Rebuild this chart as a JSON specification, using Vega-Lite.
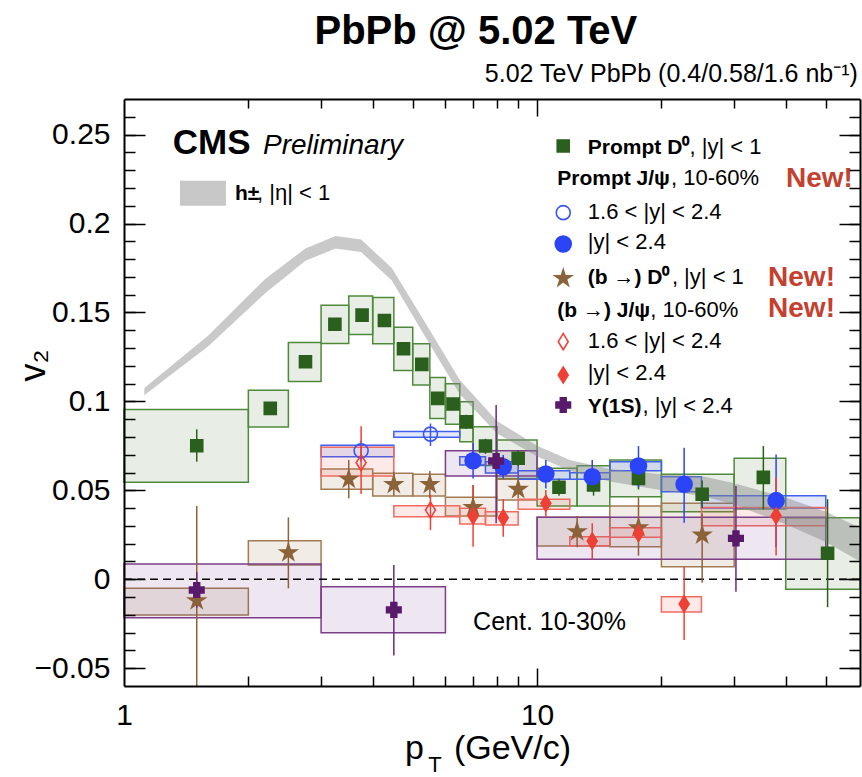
{
"$schema": "https://vega.github.io/schema/vega-lite/v6.json",
"width": 736, "height": 587,
"autosize": {"type": "none"},
"padding": {"left": 124, "top": 99, "right": 2, "bottom": 91},
"background": "white",
"config": {"view": {"stroke": null}, "font": "Liberation Sans"},
"resolve": {"axis": {"x": "independent", "y": "independent"}, "scale": {"fill": "independent", "stroke": "independent", "color": "independent", "shape": "independent", "size": "independent"}},
"datasets": {
"band": [
{"pT":1.12,"hi":0.1075,"lo":0.1035},{"pT":1.35,"hi":0.123,"lo":0.118},{"pT":1.6,"hi":0.137,"lo":0.131},{"pT":2.2,"hi":0.169,"lo":0.161},{"pT":2.75,"hi":0.186,"lo":0.179},{"pT":3.25,"hi":0.193,"lo":0.186},{"pT":3.75,"hi":0.191,"lo":0.184},{"pT":4.45,"hi":0.175,"lo":0.168},{"pT":5.5,"hi":0.14,"lo":0.132},{"pT":6.5,"hi":0.112,"lo":0.104},{"pT":8,"hi":0.089,"lo":0.082},{"pT":10,"hi":0.075,"lo":0.069},{"pT":12,"hi":0.067,"lo":0.061},{"pT":15,"hi":0.062,"lo":0.055},{"pT":20,"hi":0.059,"lo":0.05},{"pT":25,"hi":0.058,"lo":0.047},{"pT":30,"hi":0.054,"lo":0.042},{"pT":40,"hi":0.046,"lo":0.031},{"pT":50,"hi":0.038,"lo":0.021},{"pT":60.5,"hi":0.029,"lo":0.01}
],
"boxes": [
{"s":"D0","a":1,"b":2,"lo":0.0545,"hi":0.0955},{"s":"D0","a":2,"b":2.5,"lo":0.0856,"hi":0.1063},{"s":"D0","a":2.5,"b":3,"lo":0.1112,"hi":0.1331},{"s":"D0","a":3,"b":3.5,"lo":0.1326,"hi":0.1541},{"s":"D0","a":3.5,"b":4,"lo":0.1376,"hi":0.1592},{"s":"D0","a":4,"b":4.5,"lo":0.1324,"hi":0.1584},{"s":"D0","a":4.5,"b":5,"lo":0.1174,"hi":0.1417},{"s":"D0","a":5,"b":5.5,"lo":0.1092,"hi":0.1324},{"s":"D0","a":5.5,"b":6,"lo":0.0904,"hi":0.1134},{"s":"D0","a":6,"b":6.5,"lo":0.0871,"hi":0.1099},{"s":"D0","a":6.5,"b":7,"lo":0.0773,"hi":0.0998},{"s":"D0","a":7,"b":8,"lo":0.064,"hi":0.0857},{"s":"D0","a":8,"b":10,"lo":0.0567,"hi":0.0783},{"s":"D0","a":10,"b":12.5,"lo":0.0412,"hi":0.0624},{"s":"D0","a":12.5,"b":15,"lo":0.0412,"hi":0.0638},{"s":"D0","a":15,"b":20,"lo":0.0464,"hi":0.067},{"s":"D0","a":20,"b":30,"lo":0.038,"hi":0.059},{"s":"D0","a":30,"b":40,"lo":0.0395,"hi":0.068},{"s":"D0","a":40,"b":60.5,"lo":-0.0056,"hi":0.0346},
{"s":"bD0","a":1,"b":2,"lo":-0.0201,"hi":-0.0051},{"s":"bD0","a":2,"b":3,"lo":0.008,"hi":0.0217},{"s":"bD0","a":3,"b":4,"lo":0.0506,"hi":0.062},{"s":"bD0","a":4,"b":5,"lo":0.0468,"hi":0.0596},{"s":"bD0","a":5,"b":6,"lo":0.0468,"hi":0.059},{"s":"bD0","a":6,"b":8,"lo":0.0356,"hi":0.0461},{"s":"bD0","a":8,"b":10,"lo":0.0446,"hi":0.0563},{"s":"bD0","a":10,"b":15,"lo":0.0187,"hi":0.0348},{"s":"bD0","a":15,"b":20,"lo":0.0183,"hi":0.0412},{"s":"bD0","a":20,"b":30,"lo":0.0071,"hi":0.0427},
{"s":"JpF","a":3,"b":4.5,"lo":0.0689,"hi":0.0754},{"s":"JpF","a":4.5,"b":6.5,"lo":0.0798,"hi":0.0831},
{"s":"Jp","a":6.5,"b":7.5,"lo":0.0642,"hi":0.0689},{"s":"Jp","a":7.5,"b":9,"lo":0.0598,"hi":0.066},{"s":"Jp","a":9,"b":12,"lo":0.0562,"hi":0.061},{"s":"Jp","a":12,"b":15,"lo":0.0562,"hi":0.0599},{"s":"Jp","a":15,"b":20,"lo":0.061,"hi":0.066},{"s":"Jp","a":20,"b":25,"lo":0.0492,"hi":0.0576},{"s":"Jp","a":25,"b":50,"lo":0.04,"hi":0.047},
{"s":"bJF","a":3,"b":4.5,"lo":0.058,"hi":0.0742},{"s":"bJF","a":4.5,"b":6.5,"lo":0.0352,"hi":0.0414},
{"s":"bJ","a":6.5,"b":7.5,"lo":0.0311,"hi":0.0399},{"s":"bJ","a":7.5,"b":9,"lo":0.0305,"hi":0.038},{"s":"bJ","a":9,"b":12,"lo":0.0393,"hi":0.045},{"s":"bJ","a":12,"b":15,"lo":0.0189,"hi":0.0239},{"s":"bJ","a":15,"b":20,"lo":0.0236,"hi":0.029},{"s":"bJ","a":20,"b":25,"lo":-0.0184,"hi":-0.0098},{"s":"bJ","a":25,"b":50,"lo":0.0301,"hi":0.0404},
{"s":"Y","a":1,"b":3,"lo":-0.0216,"hi":0.0086},{"s":"Y","a":3,"b":6,"lo":-0.03,"hi":-0.0042},{"s":"Y","a":6,"b":10,"lo":0.058,"hi":0.0722},{"s":"Y","a":10,"b":50,"lo":0.0112,"hi":0.0348}
],
"pts": [
{"s":"D0","pT":1.5,"v2":0.0751,"lo":0.0661,"hi":0.0843},{"s":"D0","pT":2.26,"v2":0.0961,"lo":0.093,"hi":0.099},{"s":"D0","pT":2.75,"v2":0.1223,"lo":0.1195,"hi":0.125},{"s":"D0","pT":3.24,"v2":0.1434,"lo":0.1405,"hi":0.146},{"s":"D0","pT":3.77,"v2":0.1485,"lo":0.1455,"hi":0.1515},{"s":"D0","pT":4.27,"v2":0.1455,"lo":0.1425,"hi":0.1485},{"s":"D0","pT":4.75,"v2":0.1296,"lo":0.1266,"hi":0.1326},{"s":"D0","pT":5.26,"v2":0.1208,"lo":0.1175,"hi":0.124},{"s":"D0","pT":5.75,"v2":0.1017,"lo":0.098,"hi":0.105},{"s":"D0","pT":6.26,"v2":0.0985,"lo":0.095,"hi":0.102},{"s":"D0","pT":6.74,"v2":0.0885,"lo":0.0845,"hi":0.0925},{"s":"D0","pT":7.5,"v2":0.0749,"lo":0.0705,"hi":0.079},{"s":"D0","pT":9,"v2":0.068,"lo":0.0635,"hi":0.0725},{"s":"D0","pT":11.3,"v2":0.0517,"lo":0.047,"hi":0.0565},{"s":"D0","pT":13.7,"v2":0.053,"lo":0.047,"hi":0.059},{"s":"D0","pT":17.6,"v2":0.0567,"lo":0.0505,"hi":0.063},{"s":"D0","pT":25.1,"v2":0.0478,"lo":0.04,"hi":0.0555},{"s":"D0","pT":35.3,"v2":0.0573,"lo":0.0393,"hi":0.0749},{"s":"D0","pT":50.5,"v2":0.0146,"lo":-0.0157,"hi":0.045},
{"s":"JpF","pT":3.75,"v2":0.0722,"lo":0.066,"hi":0.078},{"s":"JpF","pT":5.52,"v2":0.0816,"lo":0.0749,"hi":0.0876},
{"s":"Jp","pT":7.0,"v2":0.0666,"lo":0.0567,"hi":0.0766},{"s":"Jp","pT":8.28,"v2":0.0633,"lo":0.0567,"hi":0.0698},{"s":"Jp","pT":10.5,"v2":0.0592,"lo":0.0511,"hi":0.067},{"s":"Jp","pT":13.6,"v2":0.0576,"lo":0.0492,"hi":0.067},{"s":"Jp","pT":17.6,"v2":0.0637,"lo":0.0517,"hi":0.0749},{"s":"Jp","pT":22.7,"v2":0.0534,"lo":0.0318,"hi":0.0739},{"s":"Jp","pT":37.9,"v2":0.0442,"lo":0.018,"hi":0.0702},
{"s":"bD0","pT":1.5,"v2":-0.012,"lo":-0.06,"hi":0.0412},{"s":"bD0","pT":2.5,"v2":0.015,"lo":-0.0051,"hi":0.0348},{"s":"bD0","pT":3.5,"v2":0.0563,"lo":0.0455,"hi":0.067},{"s":"bD0","pT":4.5,"v2":0.0534,"lo":0.047,"hi":0.0605},{"s":"bD0","pT":5.5,"v2":0.0534,"lo":0.0455,"hi":0.0608},{"s":"bD0","pT":7.0,"v2":0.0404,"lo":0.0343,"hi":0.053},{"s":"bD0","pT":9.0,"v2":0.0506,"lo":0.0455,"hi":0.057},{"s":"bD0","pT":12.5,"v2":0.0268,"lo":0.018,"hi":0.0356},{"s":"bD0","pT":17.6,"v2":0.029,"lo":0.0133,"hi":0.0461},{"s":"bD0","pT":25.1,"v2":0.0249,"lo":-0.0019,"hi":0.037},
{"s":"bJF","pT":3.75,"v2":0.0655,"lo":0.048,"hi":0.086},{"s":"bJF","pT":5.52,"v2":0.0389,"lo":0.0277,"hi":0.0474},
{"s":"bJ","pT":7.0,"v2":0.0356,"lo":0.0183,"hi":0.053},{"s":"bJ","pT":8.28,"v2":0.0346,"lo":0.0239,"hi":0.045},{"s":"bJ","pT":10.5,"v2":0.0427,"lo":0.0352,"hi":0.0502},{"s":"bJ","pT":13.6,"v2":0.0215,"lo":0.0112,"hi":0.0315},{"s":"bJ","pT":17.6,"v2":0.0258,"lo":0.0225,"hi":0.0295},{"s":"bJ","pT":22.7,"v2":-0.0139,"lo":-0.0341,"hi":0.0071},{"s":"bJ","pT":37.9,"v2":0.0357,"lo":0.0133,"hi":0.0573},
{"s":"Y","pT":1.5,"v2":-0.006,"lo":-0.016,"hi":0.004},{"s":"Y","pT":4.5,"v2":-0.0172,"lo":-0.0429,"hi":0.008},{"s":"Y","pT":7.96,"v2":0.0665,"lo":0.0315,"hi":0.098},{"s":"Y","pT":30.3,"v2":0.023,"lo":-0.007,"hi":0.0524}
],
"leg": [
{"s":"D0","pT":11.57,"v2":0.2436},{"s":"JpF","pT":11.57,"v2":0.2061},{"s":"Jp","pT":11.57,"v2":0.1885},{"s":"bD0","pT":11.57,"v2":0.1692},{"s":"bJF","pT":11.57,"v2":0.1336},{"s":"bJ","pT":11.57,"v2":0.1148},{"s":"Y","pT":11.57,"v2":0.098}
]
},
"layer": [
{
"data": {"name": "boxes"},
"mark": {"type": "rect", "fillOpacity": 0.13, "strokeWidth": 1.5, "strokeOpacity": 1},
"encoding": {
"x": {"field": "a", "type": "quantitative", "scale": {"type": "log", "domain": [1, 60.5], "nice": false},
 "axis": {"orient": "bottom", "values": [10], "labels": false, "ticks": true, "tickSize": -18, "tickWidth": 1.5, "tickColor": "black", "domain": false, "grid": false, "title": null, "zindex": 1}},
"x2": {"field": "b"},
"y": {"field": "lo", "type": "quantitative", "scale": {"domain": [-0.06, 0.27], "nice": false, "zero": false},
 "axis": {"orient": "left", "values": [-0.05, 0, 0.05, 0.1, 0.15, 0.2, 0.25], "labels": false, "ticks": true, "tickSize": -21, "tickWidth": 1.5, "tickColor": "black", "domain": false, "grid": false, "title": null, "zindex": 1}},
"y2": {"field": "hi"},
"fill": {"field": "s", "type": "nominal", "legend": null, "scale": {"domain": ["D0","JpF","Jp","bD0","bJF","bJ","Y"], "range": ["#4a7a3c","#3050f0","#3050f0","#9a7040","#f05a50","#f05a50","#7b3f89"]}},
"stroke": {"field": "s", "type": "nominal", "legend": null, "scale": {"domain": ["D0","JpF","Jp","bD0","bJF","bJ","Y"], "range": ["#4f8a3b","#4060f0","#4060f0","#a27b52","#f26a60","#f26a60","#7b3f89"]}}
}
},
{
"data": {"name": "band"},
"mark": {"type": "area", "color": "#888888", "opacity": 0.45},
"encoding": {
"x": {"field": "pT", "type": "quantitative", "scale": {"type": "log", "domain": [1, 60.5], "nice": false},
 "axis": {"orient": "bottom", "values": [1, 10], "format": "~g", "labelFontSize": 30, "labelFont": "Liberation Sans", "labelColor": "black", "labelPadding": 14, "labelBaseline": "top", "ticks": false, "domain": true, "domainColor": "black", "domainWidth": 2, "grid": false, "title": null, "labelFlush": false, "labelOverlap": false, "zindex": 1}},
"y": {"field": "hi", "type": "quantitative", "scale": {"domain": [-0.06, 0.27], "nice": false, "zero": false},
 "axis": {"orient": "left", "values": [-0.05, 0, 0.05, 0.1, 0.15, 0.2, 0.25], "format": "~g", "labelFontSize": 30, "labelFont": "Liberation Sans", "labelColor": "black", "labelPadding": 14, "ticks": false, "domain": true, "domainColor": "black", "domainWidth": 2, "grid": false, "labelOverlap": false, "labelFlush": false, "zindex": 1,
  "title": "v₂", "titleFontSize": 36, "titleFont": "Liberation Sans", "titleFontWeight": "normal", "titleColor": "black", "titleX": -80, "titleY": 266, "titleAngle": -90, "titleAlign": "center", "titleBaseline": "alphabetic"}},
"y2": {"field": "lo"}
}
},
{
"data": {"values": [{"z": 0}]},
"mark": {"type": "rule", "color": "black", "strokeWidth": 1.5, "strokeDash": [8, 5]},
"encoding": {"y": {"field": "z", "type": "quantitative", "scale": {"domain": [-0.06, 0.27], "nice": false, "zero": false}, "axis": null}}
},
{
"data": {"name": "pts"},
"mark": {"type": "rule", "strokeWidth": 1.5},
"encoding": {
"x": {"field": "pT", "type": "quantitative", "scale": {"type": "log", "domain": [1, 60.5], "nice": false},
 "axis": {"orient": "bottom", "values": [2,3,4,5,6,7,8,9,20,30,40,50], "labels": false, "ticks": true, "tickSize": -10, "tickWidth": 1.5, "tickColor": "black", "domain": false, "grid": false, "title": null, "zindex": 1}},
"y": {"field": "lo", "type": "quantitative", "scale": {"domain": [-0.06, 0.27], "nice": false, "zero": false},
 "axis": {"orient": "left", "values": [-0.05,-0.04,-0.03,-0.02,-0.01,0,0.01,0.02,0.03,0.04,0.05,0.06,0.07,0.08,0.09,0.1,0.11,0.12,0.13,0.14,0.15,0.16,0.17,0.18,0.19,0.2,0.21,0.22,0.23,0.24,0.25,0.26], "labels": false, "ticks": true, "tickSize": -11, "tickWidth": 1.5, "tickColor": "black", "domain": false, "grid": false, "title": null, "zindex": 1}},
"y2": {"field": "hi"},
"color": {"field": "s", "type": "nominal", "legend": null, "scale": {"domain": ["D0","JpF","Jp","bD0","bJF","bJ","Y"], "range": ["#2b5f1d","#3d55f0","#2b44f5","#8c6239","#ef4136","#ee4035","#6a2a7a"]}}
}
},
{
"data": {"name": "pts"},
"mark": {"type": "point", "filled": true, "opacity": 1, "strokeWidth": 1.6},
"encoding": {
"x": {"field": "pT", "type": "quantitative", "scale": {"type": "log", "domain": [1, 60.5], "nice": false},
 "axis": {"orient": "top", "values": [10], "labels": false, "ticks": true, "tickSize": -17, "tickWidth": 1.5, "tickColor": "black", "domain": true, "domainColor": "black", "domainWidth": 2, "grid": false, "title": null, "zindex": 1}},
"y": {"field": "v2", "type": "quantitative", "scale": {"domain": [-0.06, 0.27], "nice": false, "zero": false},
 "axis": {"orient": "right", "values": [-0.05, 0, 0.05, 0.1, 0.15, 0.2, 0.25], "labels": false, "ticks": true, "tickSize": -21, "tickWidth": 1.5, "tickColor": "black", "domain": true, "domainColor": "black", "domainWidth": 2, "grid": false, "title": null, "zindex": 1}},
"shape": {"field": "s", "type": "nominal", "legend": null, "scale": {"domain": ["D0","JpF","Jp","bD0","bJF","bJ","Y"], "range": ["square","circle","circle","M0,-1L0.22,-0.3L0.95,-0.3L0.36,0.12L0.59,0.81L0,0.38L-0.59,0.81L-0.36,0.12L-0.95,-0.3L-0.22,-0.3Z","M0,-1L0.62,0L0,1L-0.62,0Z","M0,-1L0.62,0L0,1L-0.62,0Z","cross"]}},
"fill": {"field": "s", "type": "nominal", "legend": null, "scale": {"domain": ["D0","JpF","Jp","bD0","bJF","bJ","Y"], "range": ["#2b5f1d","transparent","#2b44f5","#8c6239","transparent","#ee4035","#5a1a6b"]}},
"stroke": {"field": "s", "type": "nominal", "legend": null, "scale": {"domain": ["D0","JpF","Jp","bD0","bJF","bJ","Y"], "range": ["#2b5f1d","#3d55f0","#2b44f5","#8c6239","#ef4136","#ee4035","#5a1a6b"]}},
"size": {"field": "s", "type": "ordinal", "legend": null, "scale": {"type": "ordinal", "domain": ["D0","JpF","Jp","bD0","bJF","bJ","Y"], "range": [144, 196, 256, 300, 256, 256, 210]}}
}
},
{
"data": {"name": "leg"},
"mark": {"type": "point", "filled": true, "opacity": 1, "strokeWidth": 1.6},
"encoding": {
"x": {"field": "pT", "type": "quantitative", "scale": {"type": "log", "domain": [1, 60.5], "nice": false},
 "axis": {"orient": "top", "values": [2,3,4,5,6,7,8,9,20,30,40,50], "labels": false, "ticks": true, "tickSize": -9, "tickWidth": 1.5, "tickColor": "black", "domain": false, "grid": false, "title": null, "zindex": 1}},
"y": {"field": "v2", "type": "quantitative", "scale": {"domain": [-0.06, 0.27], "nice": false, "zero": false},
 "axis": {"orient": "right", "values": [-0.05,-0.04,-0.03,-0.02,-0.01,0,0.01,0.02,0.03,0.04,0.05,0.06,0.07,0.08,0.09,0.1,0.11,0.12,0.13,0.14,0.15,0.16,0.17,0.18,0.19,0.2,0.21,0.22,0.23,0.24,0.25,0.26], "labels": false, "ticks": true, "tickSize": -11, "tickWidth": 1.5, "tickColor": "black", "domain": false, "grid": false, "title": null, "zindex": 1}},
"shape": {"field": "s", "type": "nominal", "legend": null, "scale": {"domain": ["D0","JpF","Jp","bD0","bJF","bJ","Y"], "range": ["square","circle","circle","M0,-1L0.22,-0.3L0.95,-0.3L0.36,0.12L0.59,0.81L0,0.38L-0.59,0.81L-0.36,0.12L-0.95,-0.3L-0.22,-0.3Z","M0,-1L0.62,0L0,1L-0.62,0Z","M0,-1L0.62,0L0,1L-0.62,0Z","cross"]}},
"fill": {"field": "s", "type": "nominal", "legend": null, "scale": {"domain": ["D0","JpF","Jp","bD0","bJF","bJ","Y"], "range": ["#2b5f1d","white","#2b44f5","#8c6239","white","#ee4035","#5a1a6b"]}},
"stroke": {"field": "s", "type": "nominal", "legend": null, "scale": {"domain": ["D0","JpF","Jp","bD0","bJF","bJ","Y"], "range": ["#2b5f1d","#3d55f0","#2b44f5","#8c6239","#ef4136","#ee4035","#5a1a6b"]}},
"size": {"field": "s", "type": "ordinal", "legend": null, "scale": {"type": "ordinal", "domain": ["D0","JpF","Jp","bD0","bJF","bJ","Y"], "range": [144, 196, 256, 300, 256, 256, 210]}}
}
},
{
"data": {"values": [{"a": 1.366, "b": 1.766, "lo": 0.21, "hi": 0.2241}]},
"mark": {"type": "rect", "color": "#c8c8c8"},
"encoding": {
"x": {"field": "a", "type": "quantitative", "scale": {"type": "log", "domain": [1, 60.5], "nice": false}, "axis": null},
"x2": {"field": "b"},
"y": {"field": "lo", "type": "quantitative", "scale": {"domain": [-0.06, 0.27], "nice": false, "zero": false}, "axis": null},
"y2": {"field": "hi"}
}
},
{
"data": {"values": [
{"t": "Prompt D⁰", "x": 13.27, "y": 0.2391},
{"t": "Prompt J/ψ", "x": 11.19, "y": 0.2217},
{"t": "(b →) D⁰", "x": 13.27, "y": 0.166},
{"t": "(b →) J/ψ", "x": 11.19, "y": 0.1476},
{"t": "Υ(1S)", "x": 13.27, "y": 0.0936},
{"t": "h±", "x": 1.857, "y": 0.2132}
]},
"mark": {"type": "text", "align": "left", "baseline": "alphabetic", "fontSize": 21, "fontWeight": "bold", "font": "Liberation Sans", "color": "black"},
"encoding": {
"x": {"field": "x", "type": "quantitative", "scale": {"type": "log", "domain": [1, 60.5], "nice": false}, "axis": null},
"y": {"field": "y", "type": "quantitative", "scale": {"domain": [-0.06, 0.27], "nice": false, "zero": false}, "axis": null},
"text": {"field": "t"}
}
},
{
"data": {"values": [
{"t": ", |y| < 1", "x": 23.4, "y": 0.2391},
{"t": ", 10-60%", "x": 21.1, "y": 0.2217},
{"t": "1.6 < |y| < 2.4", "x": 13.27, "y": 0.2024},
{"t": "|y| < 2.4", "x": 13.27, "y": 0.1855},
{"t": ", |y| < 1", "x": 21.2, "y": 0.166},
{"t": ", 10-60%", "x": 18.8, "y": 0.1476},
{"t": "1.6 < |y| < 2.4", "x": 13.27, "y": 0.1299},
{"t": "|y| < 2.4", "x": 13.27, "y": 0.112},
{"t": ", |y| < 2.4", "x": 18.0, "y": 0.0936},
{"t": ", |η| < 1", "x": 2.1, "y": 0.2132}
]},
"mark": {"type": "text", "align": "left", "baseline": "alphabetic", "fontSize": 22, "font": "Liberation Sans", "color": "black"},
"encoding": {
"x": {"field": "x", "type": "quantitative", "scale": {"type": "log", "domain": [1, 60.5], "nice": false}, "axis": null},
"y": {"field": "y", "type": "quantitative", "scale": {"domain": [-0.06, 0.27], "nice": false, "zero": false}, "axis": null},
"text": {"field": "t"}
}
},
{
"data": {"values": [
{"t": "New!", "x": 40.06, "y": 0.2207},
{"t": "New!", "x": 36.24, "y": 0.1649},
{"t": "New!", "x": 36.24, "y": 0.1476}
]},
"mark": {"type": "text", "align": "left", "baseline": "alphabetic", "fontSize": 28, "fontWeight": "bold", "font": "Liberation Sans", "color": "#c4402f"},
"encoding": {
"x": {"field": "x", "type": "quantitative", "scale": {"type": "log", "domain": [1, 60.5], "nice": false}, "axis": null},
"y": {"field": "y", "type": "quantitative", "scale": {"domain": [-0.06, 0.27], "nice": false, "zero": false}, "axis": null},
"text": {"field": "t"}
}
},
{
"data": {"values": [{"t": "CMS", "x": 1.312, "y": 0.2391}]},
"mark": {"type": "text", "align": "left", "baseline": "alphabetic", "fontSize": 35, "fontWeight": "bold", "font": "Liberation Sans", "color": "black"},
"encoding": {
"x": {"field": "x", "type": "quantitative", "scale": {"type": "log", "domain": [1, 60.5], "nice": false}, "axis": null},
"y": {"field": "y", "type": "quantitative", "scale": {"domain": [-0.06, 0.27], "nice": false, "zero": false}, "axis": null},
"text": {"field": "t"}
}
},
{
"data": {"values": [{"t": "Preliminary", "x": 2.17, "y": 0.2391}]},
"mark": {"type": "text", "align": "left", "baseline": "alphabetic", "fontSize": 28, "fontStyle": "italic", "font": "Liberation Sans", "color": "black"},
"encoding": {
"x": {"field": "x", "type": "quantitative", "scale": {"type": "log", "domain": [1, 60.5], "nice": false}, "axis": null},
"y": {"field": "y", "type": "quantitative", "scale": {"domain": [-0.06, 0.27], "nice": false, "zero": false}, "axis": null},
"text": {"field": "t"}
}
},
{
"data": {"values": [{"t": "Cent. 10-30%", "x": 7.0, "y": -0.0285}]},
"mark": {"type": "text", "align": "left", "baseline": "alphabetic", "fontSize": 25, "font": "Liberation Sans", "color": "black"},
"encoding": {
"x": {"field": "x", "type": "quantitative", "scale": {"type": "log", "domain": [1, 60.5], "nice": false}, "axis": null},
"y": {"field": "y", "type": "quantitative", "scale": {"domain": [-0.06, 0.27], "nice": false, "zero": false}, "axis": null},
"text": {"field": "t"}
}
},
{
"data": {"values": [{"t": "PbPb @ 5.02 TeV", "x": 7.11, "y": 0.3009}]},
"mark": {"type": "text", "align": "center", "baseline": "alphabetic", "fontSize": 40, "fontWeight": "bold", "font": "Liberation Sans", "color": "black"},
"encoding": {
"x": {"field": "x", "type": "quantitative", "scale": {"type": "log", "domain": [1, 60.5], "nice": false}, "axis": null},
"y": {"field": "y", "type": "quantitative", "scale": {"domain": [-0.06, 0.27], "nice": false, "zero": false}, "axis": null},
"text": {"field": "t"}
}
},
{
"data": {"values": [{"t": "5.02 TeV PbPb (0.4/0.58/1.6 nb⁻¹)", "x": 59.8, "y": 0.2796}]},
"mark": {"type": "text", "align": "right", "baseline": "alphabetic", "fontSize": 25, "font": "Liberation Sans", "color": "black"},
"encoding": {
"x": {"field": "x", "type": "quantitative", "scale": {"type": "log", "domain": [1, 60.5], "nice": false}, "axis": null},
"y": {"field": "y", "type": "quantitative", "scale": {"domain": [-0.06, 0.27], "nice": false, "zero": false}, "axis": null},
"text": {"field": "t"}
}
},
{
"data": {"values": [{"t": "p", "x": 4.79, "y": -0.101}, {"t": "(GeV/c)", "x": 6.29, "y": -0.101}]},
"mark": {"type": "text", "align": "left", "baseline": "alphabetic", "fontSize": 34, "font": "Liberation Sans", "color": "black"},
"encoding": {
"x": {"field": "x", "type": "quantitative", "scale": {"type": "log", "domain": [1, 60.5], "nice": false}, "axis": null},
"y": {"field": "y", "type": "quantitative", "scale": {"domain": [-0.06, 0.27], "nice": false, "zero": false}, "axis": null},
"text": {"field": "t"}
}
},
{
"data": {"values": [{"t": "T", "x": 5.45, "y": -0.1083}]},
"mark": {"type": "text", "align": "left", "baseline": "alphabetic", "fontSize": 22, "font": "Liberation Sans", "color": "black"},
"encoding": {
"x": {"field": "x", "type": "quantitative", "scale": {"type": "log", "domain": [1, 60.5], "nice": false}, "axis": null},
"y": {"field": "y", "type": "quantitative", "scale": {"domain": [-0.06, 0.27], "nice": false, "zero": false}, "axis": null},
"text": {"field": "t"}
}
}
]
}
